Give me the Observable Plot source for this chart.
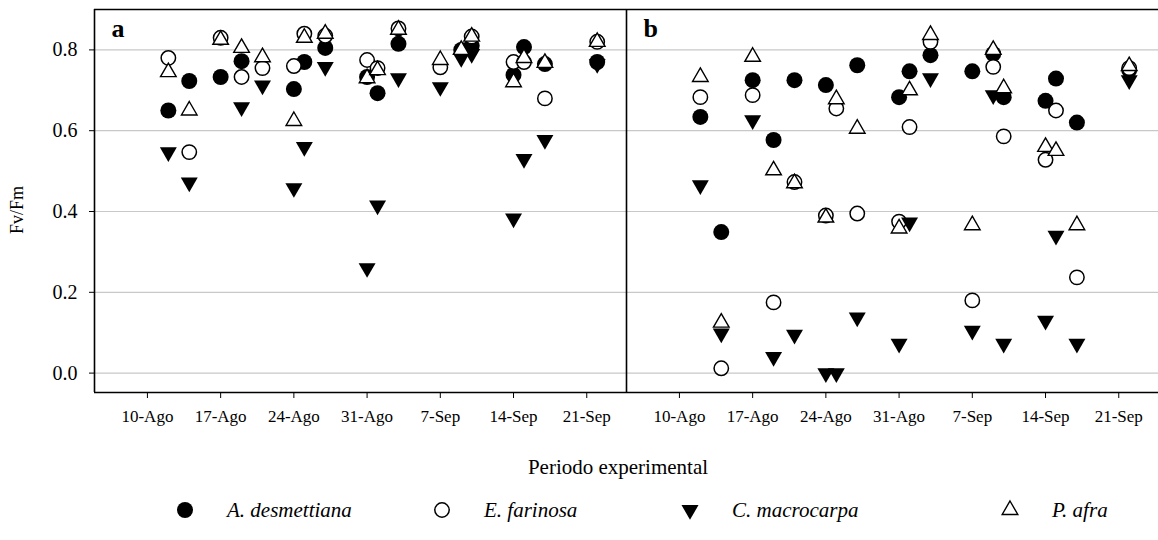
<!DOCTYPE html>
<html><head><meta charset="utf-8">
<script src="https://cdn.jsdelivr.net/npm/d3@7"></script>
<script src="https://cdn.jsdelivr.net/npm/@observablehq/plot@0.6"></script>
<style>
body{margin:0;background:#fff;}
#wrap{position:relative;width:1158px;height:540px;font-family:"Liberation Serif","Times New Roman",serif;color:#000;overflow:hidden;}
#wrap svg.plot{position:absolute;left:0;top:0;}
.xlab{position:absolute;top:455px;left:618px;transform:translateX(-50%);font-size:21px;line-height:24px;white-space:nowrap;}
.leg{position:absolute;top:498px;height:24px;display:flex;align-items:center;white-space:nowrap;}
.leg span{font-style:italic;font-size:21px;margin-left:30px;}
</style></head><body><div id="wrap"></div>
<script>
// measurement days (days after 10-Ago)
const measureDays = [2,4,7,9,11,14,15,17,21,22,24,28,30,31,35,36,38,43];
const tickDays = [0,7,14,21,28,35,42];
const tickLabels = ["10-Ago","17-Ago","24-Ago","31-Ago","7-Sep","14-Sep","21-Sep"];
const yTicks = [0,0.2,0.4,0.6,0.8];
const panels = ["a","b"];
const speciesNames = ["A. desmettiana","E. farinosa","C. macrocarpa","P. afra"];

// panel a
const aDesmA = [0.65,0.723,0.733,0.772,null,0.703,0.77,0.805,0.733,0.693,0.815,null,0.80,0.81,0.738,0.807,0.765,0.77];
const eFarA  = [0.78,0.547,0.83,0.733,0.755,0.76,0.84,0.835,0.775,0.755,0.853,0.757,null,0.833,0.77,0.77,0.68,0.82];
const cMacA  = [0.547,0.472,null,0.658,0.712,0.458,0.56,0.758,0.26,0.415,0.73,0.708,0.78,0.79,0.383,0.53,0.577,0.765];
const pAfrA  = [0.745,0.65,0.825,0.805,0.782,0.624,0.83,0.84,0.73,0.75,0.85,0.775,0.80,0.833,0.72,0.78,0.768,0.82];
// panel b
const aDesmB = [0.634,0.349,0.725,0.577,0.725,0.713,null,0.762,0.683,0.747,0.787,0.747,0.79,0.683,0.674,0.729,0.62,0.75];
const eFarB  = [0.683,0.012,0.688,0.175,0.473,0.39,0.655,0.395,0.375,0.609,0.82,0.18,0.758,0.586,0.528,0.65,0.237,0.755];
const cMacB  = [0.465,0.098,0.626,0.04,0.095,0.0,0.0,0.138,0.073,0.373,0.73,0.105,0.688,0.073,0.13,0.34,0.073,0.725];
const pAfrB  = [0.733,0.125,0.783,0.502,0.47,0.385,0.678,0.605,0.358,0.70,0.837,0.366,0.80,0.705,0.56,0.55,0.366,0.76];

const seriesByPanel = {a:[aDesmA,eFarA,cMacA,pAfrA], b:[aDesmB,eFarB,cMacB,pAfrB]};
const rows = [];
for (const p of panels) seriesByPanel[p].forEach((vals, s) => vals.forEach((v, i) => {
  if (v != null) rows.push({panel:p, species:s, day:measureDays[i], fv:v});
}));

const triangleDown = {draw(ctx, size){
  const y = Math.sqrt(size/(3*Math.sqrt(3))), s3 = Math.sqrt(3);
  ctx.moveTo(0, 2*y); ctx.lineTo(-s3*y, -y); ctx.lineTo(s3*y, -y); ctx.closePath();
}};
const styles = [
  {symbol:"circle", r:8, fill:"black", stroke:"none"},
  {symbol:"circle", r:7.2, fill:"white", stroke:"black", strokeWidth:1.5},
  {symbol:triangleDown, r:6.3, fill:"black", stroke:"none"},
  {symbol:"triangle", r:5.8, fill:"white", stroke:"black", strokeWidth:1.4}
];

const xDomain = [-5.06, 45.8];
const yDomain = [-0.048, 0.9];
const edges = panels.flatMap(p => [{panel:p, y:yDomain[0]}, {panel:p, y:yDomain[1]}]);

const chart = Plot.plot({
  width: 1158, height: 440,
  marginLeft: 94, marginRight: 0, marginTop: 9, marginBottom: 48,
  style: {fontFamily: '"Liberation Serif","Times New Roman",serif', color: "black", background: "white"},
  x: {domain: xDomain},
  y: {domain: yDomain},
  fx: {domain: panels, padding: 0, axis: null},
  marks: [
    Plot.gridY({ticks: yTicks, stroke: "#c8c8c8", strokeOpacity: 1, strokeWidth: 1.2}),
    Plot.axisY({ticks: yTicks, tickFormat: d3.format(".1f"), tickSize: 5, tickPadding: 12, fontSize: 20,
      label: "Fv/Fm", labelAnchor: "center", labelOffset: 84, labelArrow: "none"}),
    Plot.axisX({ticks: tickDays, tickFormat: d => tickLabels[tickDays.indexOf(d)], tickSize: 6, tickPadding: 11, fontSize: 17, label: null}),
    Plot.ruleX(panels, {fx: d => d, x: () => xDomain[0], stroke: "black", strokeWidth: 1.6}),
    Plot.ruleY(edges, {fx: "panel", y: "y", stroke: "black", strokeWidth: 1.6}),
    ...styles.map((st, s) => Plot.dot(rows.filter(d => d.species === s), {fx: "panel", x: "day", y: "fv", ...st})),
    Plot.text(panels, {fx: d => d, text: d => d, frameAnchor: "top-left", dx: 17, dy: 9, fontSize: 26, fontWeight: "bold"})
  ]
});
chart.classList.add("plot");
// nudge the y-axis title slightly lower and smaller, as in the reference
chart.querySelectorAll("text").forEach(t => {
  if (t.textContent === "Fv/Fm") {
    t.setAttribute("transform", (t.getAttribute("transform") || "") + " translate(-9,0)");
    t.style.fontSize = "18px";
  }
});
const wrap = document.getElementById("wrap");
wrap.appendChild(chart);

const xl = document.createElement("div");
xl.className = "xlab"; xl.textContent = "Periodo experimental";
wrap.appendChild(xl);

const legendX = [173, 430, 678, 998];
speciesNames.forEach((name, s) => {
  const st = styles[s];
  const item = document.createElement("div");
  item.className = "leg"; item.style.left = legendX[s] + "px";
  const svg = d3.create("svg").attr("width", 24).attr("height", 24);
  const sym = typeof st.symbol === "string" ? (st.symbol === "circle" ? d3.symbolCircle : d3.symbolTriangle) : st.symbol;
  svg.append("path").attr("transform", "translate(12,12)")
    .attr("d", d3.symbol(sym, st.r * st.r * Math.PI)())
    .attr("fill", st.fill).attr("stroke", st.stroke).attr("stroke-width", st.strokeWidth || 0);
  item.appendChild(svg.node());
  const sp = document.createElement("span"); sp.textContent = name;
  item.appendChild(sp);
  wrap.appendChild(item);
});
</script></body></html>
